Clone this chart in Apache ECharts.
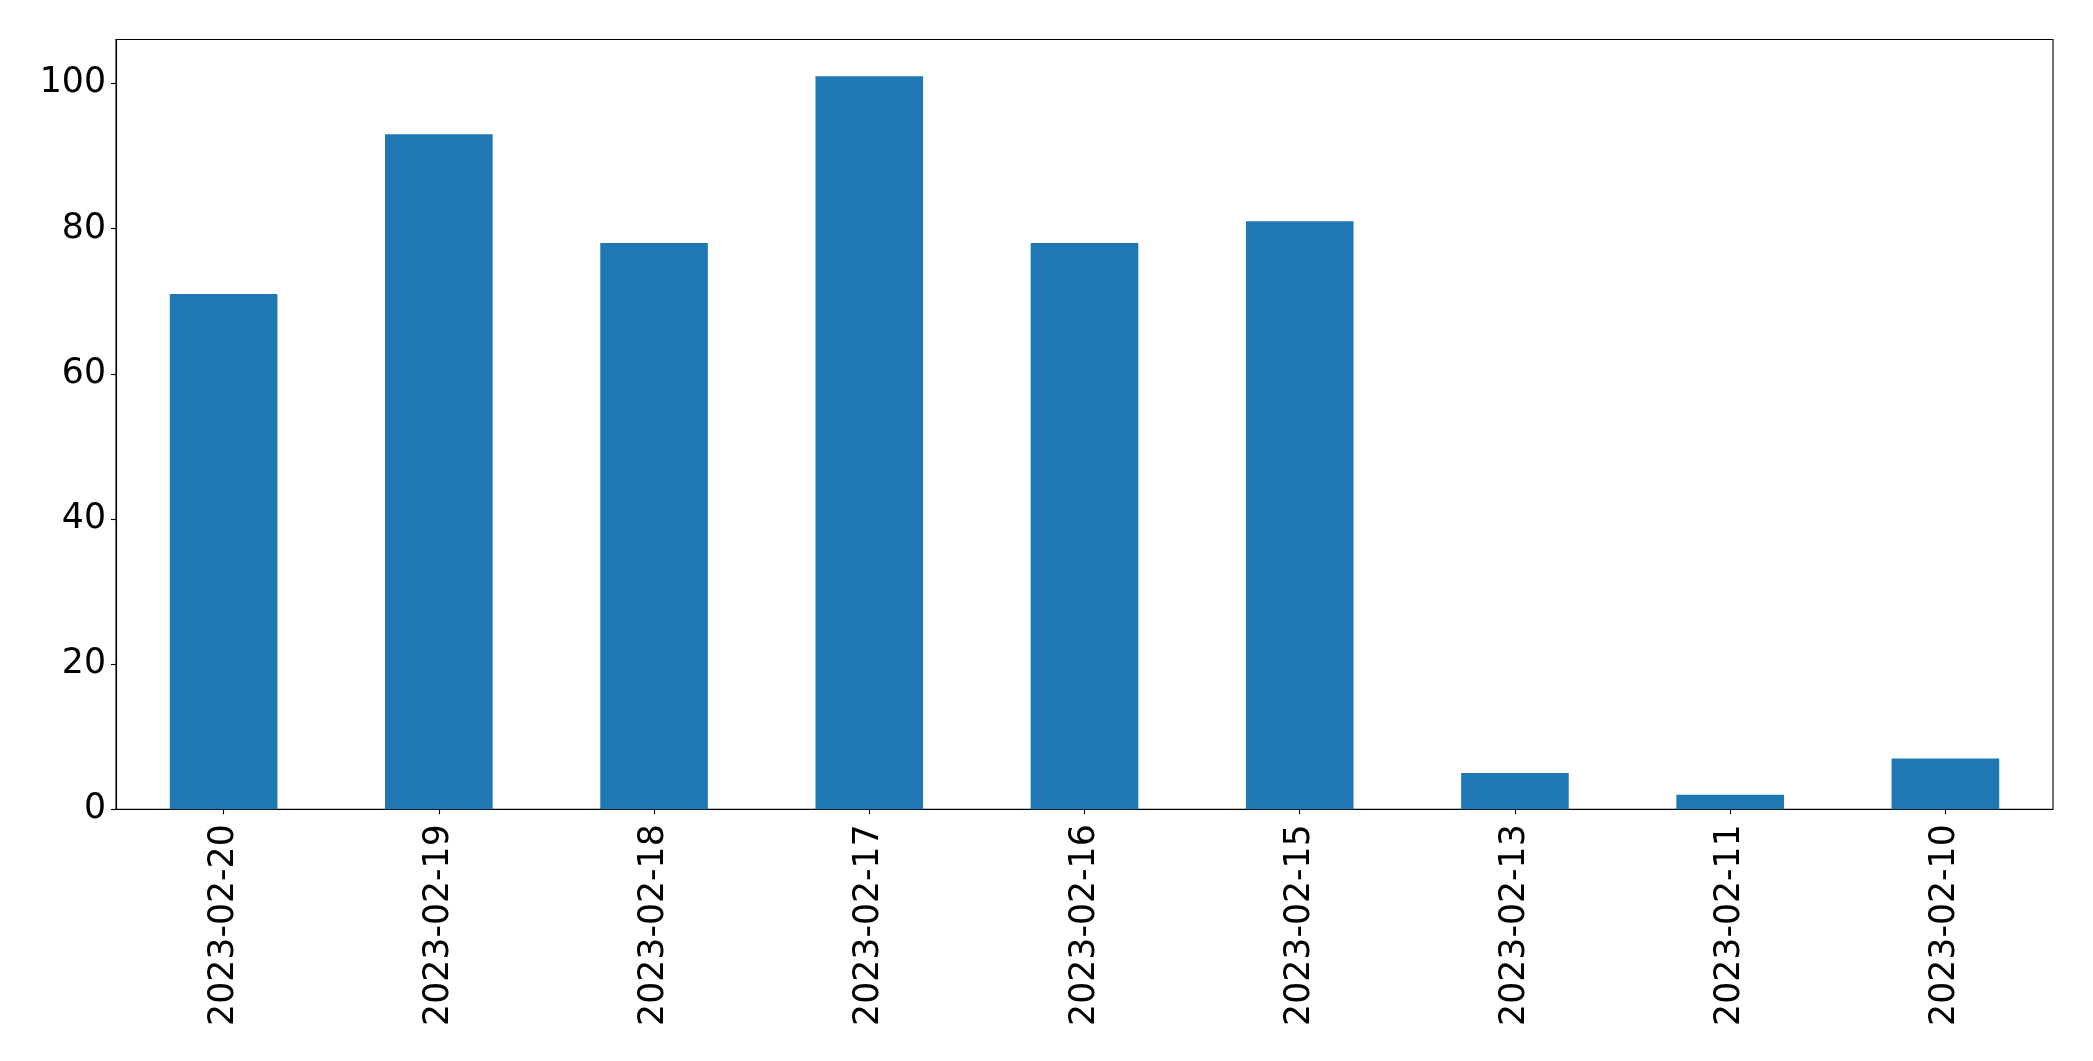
<!DOCTYPE html>
<html>
<head>
<meta charset="utf-8">
<script src="https://cdn.jsdelivr.net/npm/echarts@6/dist/echarts.min.js"></script>
<style>
html,body{margin:0;padding:0;background:#fff;}
#chart{width:2093px;height:1061px;}
</style>
</head>
<body>
<div id="chart"></div>
<script>
const categories = ['2023-02-20','2023-02-19','2023-02-18','2023-02-17','2023-02-16','2023-02-15','2023-02-13','2023-02-11','2023-02-10'];
const values = [71, 93, 78, 101, 78, 81, 5, 2, 7];
const yTicks = [0, 20, 40, 60, 80, 100];

const chart = echarts.init(document.getElementById('chart'));
chart.setOption({
  animation: false,
  backgroundColor: '#ffffff',
  grid: {
    left: 116, right: 40, top: 39.5, bottom: 251.7,
    show: true, borderColor: '#000', borderWidth: 1.1, backgroundColor: 'transparent'
  },
  xAxis: {
    type: 'category',
    data: categories,
    boundaryGap: true,
    axisLine: { show: true, lineStyle: { color: '#000', width: 1.1 } },
    axisTick: { show: true, alignWithLabel: true, length: 5, lineStyle: { color: '#000', width: 1.1 } },
    axisLabel: {
      rotate: 90, margin: 15, color: '#000',
      fontFamily: 'DejaVu Sans', fontSize: 34.7, interval: 0
    },
    splitLine: { show: false }
  },
  yAxis: {
    type: 'value',
    min: 0, max: 106.05, interval: 20,
    axisLine: { show: true, lineStyle: { color: '#000', width: 1.1 } },
    axisTick: { show: true, length: 5, lineStyle: { color: '#000', width: 1.1 } },
    axisLabel: {
      margin: 10, color: '#000', fontFamily: 'DejaVu Sans', fontSize: 34.7,
      showMaxLabel: false,
      formatter: v => yTicks.includes(v) ? String(v) : ''
    },
    splitLine: { show: false }
  },
  series: [{
    type: 'bar',
    data: values,
    barWidth: '50%',
    itemStyle: { color: '#1f77b4' }
  }]
});
</script>
</body>
</html>
